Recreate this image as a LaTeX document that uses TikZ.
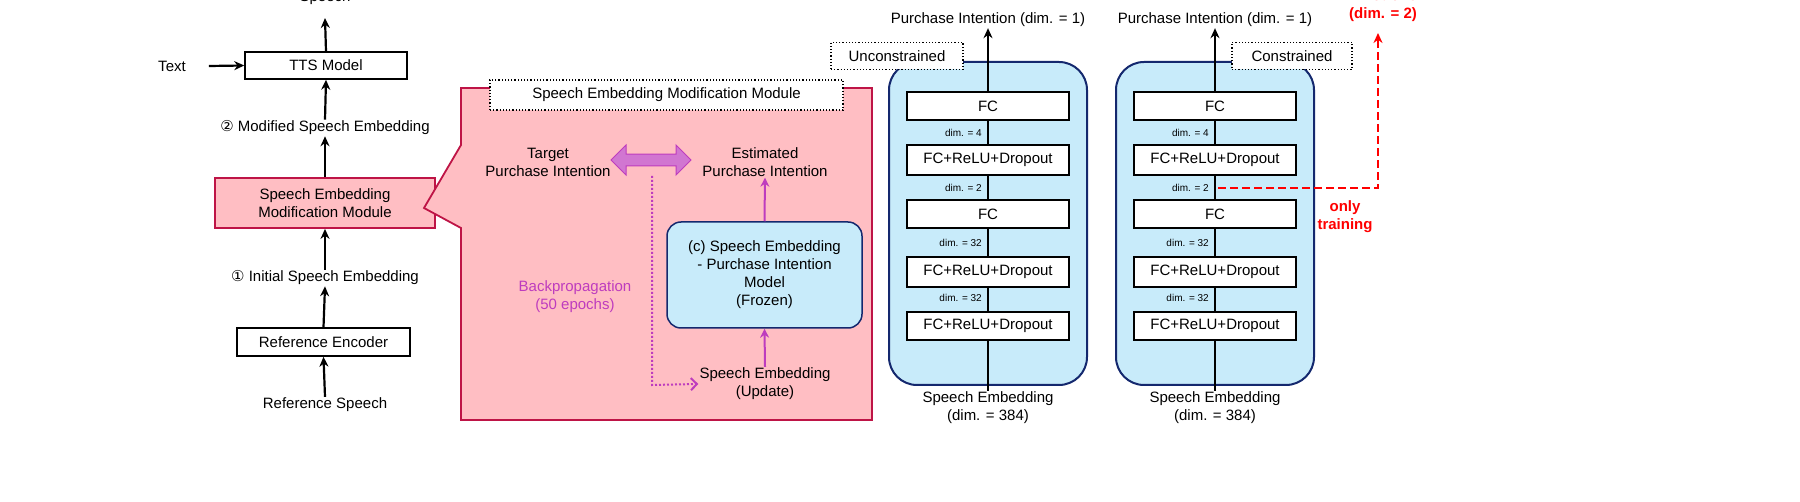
\documentclass[tikz,border=0pt]{standalone}
\usepackage{fontspec}
\setmainfont{Liberation Sans}
\newfontfamily\circfont{DejaVu Sans}
\usetikzlibrary{arrows.meta,shapes.arrows}
\definecolor{pinkf}{RGB}{255,190,195}
\definecolor{pinkd}{RGB}{190,20,70}
\definecolor{bluef}{RGB}{200,235,250}
\definecolor{blued}{RGB}{20,40,110}
\definecolor{mag}{RGB}{190,60,190}
\begin{document}
\begin{tikzpicture}[x=1pt,y=-1pt,
  txt/.style={font=\fontsize{15}{18}\selectfont,align=center,inner sep=1pt},
  sm/.style={font=\fontsize{10}{12}\selectfont,inner sep=1pt},
  box/.style={draw,line width=1.5pt,fill=white,font=\fontsize{15}{18}\selectfont},
  arr/.style={-{Stealth[length=10pt,width=9pt]},line width=2.2pt},
  parr/.style={-{Stealth[length=9pt,width=9pt]},line width=2pt,mag},
  lbl/.style={draw,dotted,line width=1.2pt,fill=white,font=\fontsize{15}{18}\selectfont},
  fc/.style={draw,line width=1.5pt,fill=white,minimum width=162pt,font=\fontsize{15}{18}\selectfont,inner sep=0pt}]
\useasboundingbox (0,0) rectangle (1800,502);
\clip (0,0) rectangle (1800,502);
\fill[white] (0,0) rectangle (1800,502);
% left column
\node[txt] (sp) at (325,-2) {Speech};
\node[box,minimum width=162pt,minimum height=27pt] (tts) at (326,65.5) {TTS Model};
\node[txt] (text) at (172,66) {Text};
\node[txt] (mod) at (325,128) {{\circfont ②} Modified Speech Embedding};
\node[draw=pinkd,line width=1.8pt,fill=pinkf,minimum width=220pt,minimum height=50pt,txt] (semm) at (325,203) {Speech Embedding\\Modification Module};
\node[txt] (ini) at (325,278) {{\circfont ①} Initial Speech Embedding};
\node[box,minimum width=173pt,minimum height=28pt] (enc) at (323.5,342) {Reference Encoder};
\node[txt] (rs) at (325,405) {Reference Speech};
\coordinate (spb) at (325,18);
\draw[arr] (tts.north) -- (spb);
\draw[arr] (text.east)++(22,0) -- (tts.west);
\draw[arr] (mod.north) -- (tts.south);
\draw[arr] (semm.north) -- (mod.south);
\draw[arr] (ini.north) -- (semm.south);
\draw[arr] (enc.north) -- (ini.south);
\draw[arr] (rs.north) -- (enc.south);
% panel
\draw[pinkd,line width=1.8pt,fill=pinkf] (461,88) -- (872,88) -- (872,420) -- (461,420) -- (461,228) -- (424,208) -- (461,145) -- cycle;
\node[lbl,minimum width=353pt,minimum height=30pt] (pt) at (666.5,95) {Speech Embedding Modification Module};
\node[txt] (tgt) at (548,162) {Target\\Purchase Intention};
\node[txt] (est) at (765,162) {Estimated\\Purchase Intention};
\node[single arrow,double arrow,draw=mag,line width=1pt,fill=mag!70,minimum width=30pt,single arrow head extend=4pt,double arrow head extend=4pt,minimum height=80pt,inner sep=2pt] (dbl) at (651,160) {};
\node[draw=blued,line width=1.5pt,fill=bluef,rounded corners=14pt,minimum width=195pt,minimum height=106pt,txt] (model) at (764.5,275) {(c) Speech Embedding\\- Purchase Intention\\Model\\(Frozen)};
\node[txt] (upd) at (765,384) {Speech Embedding\\(Update)};
\node[txt,text=mag] (bp) at (575,297) {Backpropagation\\(50 epochs)};
\draw[parr] (model.north) -- (est.south);
\draw[parr] (upd.north) -- (model.south);
\coordinate (bpa) at (652,176);
\coordinate (bpb) at (652,385);
\draw[mag,dotted,line width=2pt,-{Straight Barb[length=6pt,width=12pt]}] (bpa) -- (bpb) -- (upd.west);
% right panels
\foreach \cx/\nm in {988/u,1215/c}{
  \node[draw=blued,line width=2pt,fill=bluef,rounded corners=28pt,minimum width=198pt,minimum height=323pt] (\nm bg) at (\cx,223.5) {};
}
\node[lbl,minimum width=132pt,minimum height=27pt] (ul) at (897,56) {Unconstrained};
\node[lbl,minimum width=120pt,minimum height=27pt] (cl) at (1292,56) {Constrained};
\foreach \cx/\nm in {988/u,1215/c}{
  \node[txt] (\nm top) at (\cx,20) {Purchase Intention (dim. = 1)};
  \node[txt] (\nm bot) at (\cx,408) {Speech Embedding\\(dim. = 384)};
  \draw[line width=2.2pt] (\nm bot.north) -- (\cx,120);
  \draw[arr] (\cx,120) -- (\nm top.south);
  \node[fc,minimum height=28pt] (\nm1) at (\cx,106) {FC};
  \node[fc,minimum height=30pt] (\nm2) at (\cx,160) {FC+ReLU+Dropout};
  \node[fc,minimum height=28pt] (\nm3) at (\cx,214) {FC};
  \node[fc,minimum height=30pt] (\nm4) at (\cx,272) {FC+ReLU+Dropout};
  \node[fc,minimum height=28pt] (\nm5) at (\cx,326) {FC+ReLU+Dropout};
  \node[sm,anchor=east] (\nm d1) at (\cx-5,133) {dim. = 4};
  \node[sm,anchor=east] (\nm d2) at (\cx-5,188) {dim. = 2};
  \node[sm,anchor=east] (\nm d3) at (\cx-5,243) {dim. = 32};
  \node[sm,anchor=east] (\nm d4) at (\cx-5,298) {dim. = 32};
}
\node[txt,text=red,font=\bfseries\fontsize{15}{18}\selectfont] (emo) at (1383,6) {Emotions\\(dim. = 2)};
\node[txt,text=red,font=\bfseries\fontsize{15}{18}\selectfont] (only) at (1345,217) {only\\training};
\coordinate (rs1) at (1218,188);
\coordinate (rs2) at (1378,188);
\draw[red,dashed,line width=2.2pt,dash pattern=on 8pt off 4pt,-{Stealth[length=10pt,width=9pt]}] (rs1) -- (rs2) -- (1378,33);
\end{tikzpicture}
\end{document}
